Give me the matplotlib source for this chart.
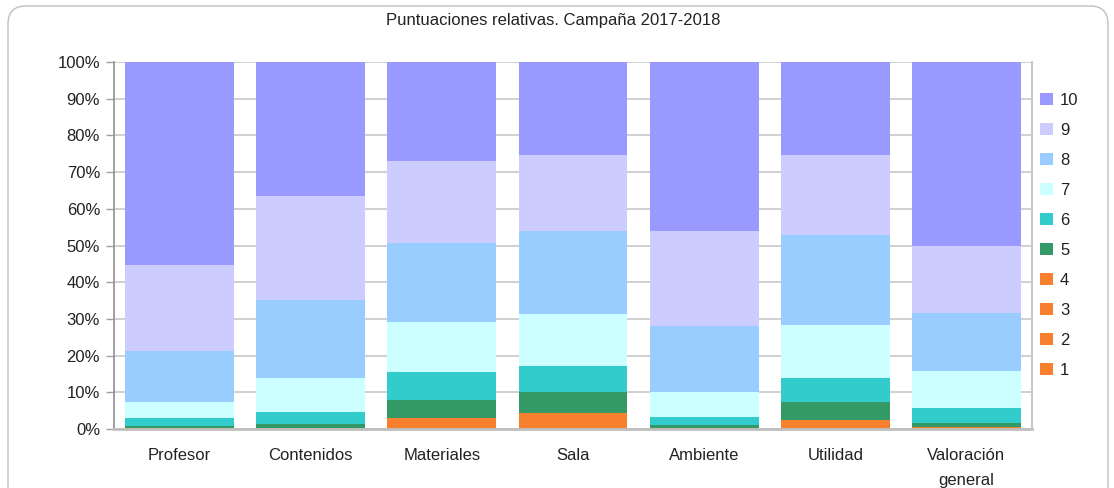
import matplotlib
matplotlib.use("Agg")
import matplotlib.pyplot as plt
import numpy as np
from matplotlib.patches import FancyBboxPatch, Patch

plt.rcParams['font.family'] = ['Liberation Sans', 'DejaVu Sans']

categories = ["Profesor", "Contenidos", "Materiales", "Sala", "Ambiente", "Utilidad", "Valoración\ngeneral"]
series_labels = ["1", "2", "3", "4", "5", "6", "7", "8", "9", "10"]
s1 = [0.0, 0.0, 0.5, 0.7, 0.0, 0.4, 0.1]
s2 = [0.1, 0.0, 0.5, 0.8, 0.1, 0.4, 0.1]
s3 = [0.1, 0.1, 0.9, 1.2, 0.1, 0.7, 0.1]
s4 = [0.2, 0.2, 1.1, 1.7, 0.2, 1.0, 0.2]
s5 = [0.5, 1.1, 4.9, 5.7, 0.7, 4.9, 1.1]
s6 = [2.1, 3.3, 7.6, 7.1, 2.2, 6.5, 4.1]
s7 = [4.4, 9.2, 13.7, 14.1, 6.8, 14.4, 10.1]
s8 = [13.9, 21.2, 21.5, 22.7, 18.0, 24.6, 15.8]
s9 = [23.4, 28.4, 22.3, 20.7, 25.9, 21.8, 18.3]
s10 = [55.3, 36.5, 27.0, 25.3, 46.0, 25.3, 50.1]
title = "Puntuaciones relativas. Campaña 2017-2018"

colors = ["#F7802F", "#F7802F", "#F7802F", "#F7802F", "#339966",
          "#33CCCC", "#CCFFFF", "#99CCFF", "#CCCCFF", "#9999FF"]

series = np.array([s1, s2, s3, s4, s5, s6, s7, s8, s9, s10], dtype=float)
series = series / series.sum(axis=0) * 100.0

W, H = 1114, 488
fig = plt.figure(figsize=(W / 100, H / 100), dpi=100)

# outer rounded frame
frame = FancyBboxPatch((8 / 100, -30 / 100), (1100) / 100, (482 + 30) / 100,
                       boxstyle="round,pad=0,rounding_size=0.18",
                       transform=fig.dpi_scale_trans, facecolor="none",
                       edgecolor="#C0C0C0", linewidth=1.0, zorder=-1)
fig.patches.append(frame)

ax = fig.add_axes([114 / W, 59 / H, (1032 - 114) / W, (429 - 62) / H])
ax.set_facecolor("none")

x = np.arange(len(categories))
bottom = np.zeros(len(categories))
handles = []
for vals, col, lab in zip(series, colors, series_labels):
    ax.bar(x, vals, width=0.83, bottom=bottom, color=col, edgecolor="none",
           linewidth=0, zorder=2)
    bottom += vals
    handles.append(Patch(facecolor=col, edgecolor="none", label=lab))

FS = 12
ax.set_xlim(-0.5, len(categories) - 0.5)
ax.set_ylim(0, 100)
ax.set_yticks(np.arange(0, 101, 10))
ax.set_yticklabels([f"{v}%" for v in range(0, 101, 10)], fontsize=FS, color="#222222")
ax.set_xticks(x)
ax.set_xticklabels(categories, fontsize=FS, color="#222222", linespacing=1.8)
ax.tick_params(axis="x", length=0, pad=14)
ax.tick_params(axis="y", length=6, width=1, color="#A0A0A0", pad=4, direction="out")
ax.yaxis.grid(True, color="#C8C8C8", linewidth=1.2, zorder=0)
ax.set_axisbelow(True)
ax.spines["top"].set_visible(False)
ax.spines["left"].set_color("#909090")
ax.spines["left"].set_linewidth(1.2)
ax.spines["bottom"].set_color("#C0C0C0")
ax.spines["bottom"].set_linewidth(2.0)
ax.spines["right"].set_color("#C8C8C8")
ax.spines["right"].set_linewidth(1.5)

fig.text(553 / W, (H - 20) / H, title, ha="center", va="center", fontsize=FS, color="#222222")

leg = ax.legend(handles=handles[::-1], loc="upper left",
                bbox_to_anchor=(1040 / W, (H - 93) / H), bbox_transform=fig.transFigure,
                frameon=False, fontsize=FS, handlelength=0.75, handleheight=0.75,
                handletextpad=0.45, labelspacing=0.9, borderaxespad=0, borderpad=0)
for t in leg.get_texts():
    t.set_color("#222222")

fig.savefig("out.png", dpi=100, facecolor="white")
